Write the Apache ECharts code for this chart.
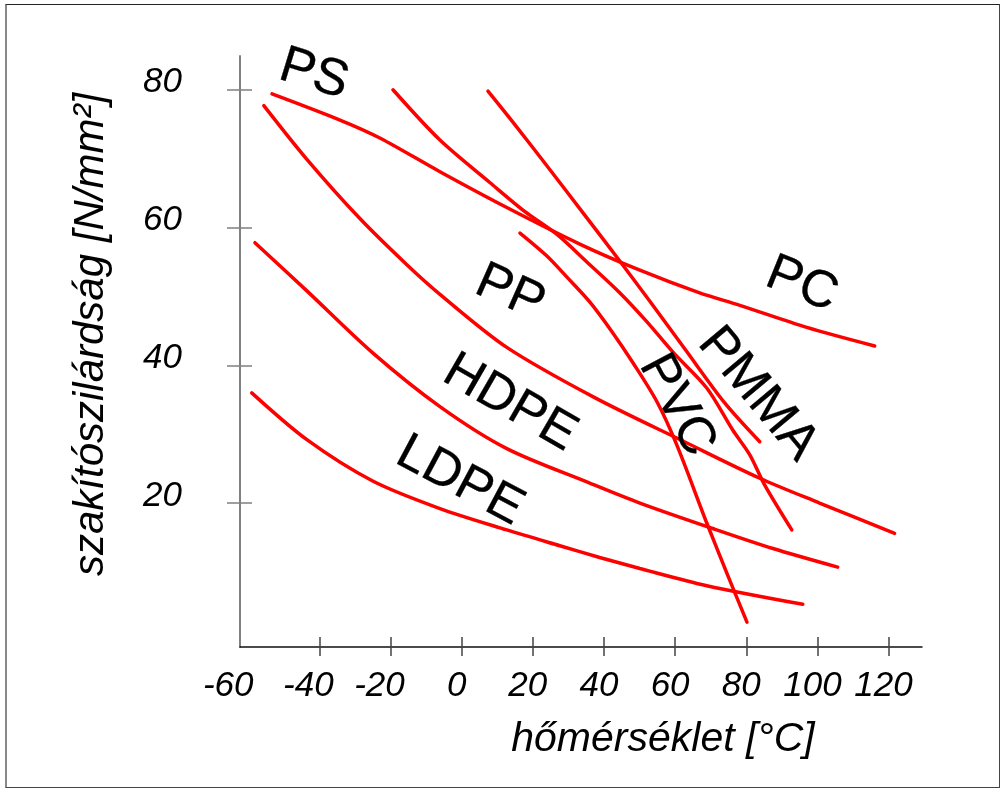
<!DOCTYPE html>
<html><head><meta charset="utf-8">
<script src="https://cdn.jsdelivr.net/npm/echarts@6/dist/echarts.min.js"></script>
<style>
html,body{margin:0;padding:0;background:#fff}
#c{position:absolute;left:0;top:0;width:1005px;height:792px}
#frame{position:absolute;left:5px;top:4px;width:995px;height:784px;border-top:1px solid #222;border-left:2px solid #888;border-right:1px solid #444;border-bottom:1px solid #444;box-sizing:border-box;pointer-events:none}
</style>
</head><body><div id="c"></div><div id="frame"></div>
<script>
// x: temperature [°C], y: tensile strength [N/mm²]
const pcX   = [-53.3, -34.2, -23.0, -6.1, 12.7, 33.2, 50.1, 66.9, 78.2, 97.0, 116.1];
const pcY   = [79.4, 75.6, 73.0, 68.1, 62.9, 57.6, 53.8, 50.5, 48.7, 45.5, 42.8];
const psX   = [-19.3, -6.1, 8.0, 17.8, 26.8, 35.2, 44.5, 52.1, 59.4, 68.9, 76.2, 81.0, 85.2, 92.8];
const psY   = [80.0, 72.7, 66.5, 62.3, 59.0, 55.0, 50.5, 46.3, 41.9, 36.7, 30.6, 27.0, 22.6, 16.1];
const pmmaX = [7.4, 14.4, 23.9, 34.6, 44.5, 52.9, 62.7, 74.0, 83.8];
const pmmaY = [79.8, 75.3, 69.0, 61.8, 55.1, 49.3, 42.4, 34.5, 28.9];
const pvcX  = [16.4, 23.9, 29.6, 36.0, 42.5, 48.1, 54.9, 60.5, 68.9, 74.8, 80.2];
const pvcY  = [59.2, 55.9, 52.8, 49.2, 44.7, 40.4, 34.7, 28.4, 17.1, 9.5, 2.7];
const ppX   = [-55.6, -43.5, -28.6, -15.4, -6.1, 12.7, 37.4, 62.2, 83.8, 100.6, 121.7];
const ppY   = [77.7, 69.9, 61.3, 54.6, 50.3, 42.6, 35.3, 29.0, 23.6, 20.0, 15.6];
const hdpeX = [-58.1, -43.5, -25.0, -6.1, 12.7, 36.0, 50.1, 70.6, 87.5, 105.7];
const hdpeY = [57.8, 50.8, 41.8, 34.0, 27.9, 22.9, 20.0, 16.3, 13.4, 10.7];
const ldpeX = [-59.0, -43.5, -25.0, -6.1, 12.7, 27.6, 38.8, 50.1, 68.9, 95.9];
const ldpeY = [36.0, 29.2, 23.2, 19.2, 16.1, 13.8, 12.1, 10.5, 8.0, 5.3];

// curve labels
const labelNames = ['PS', 'PP', 'HDPE', 'LDPE', 'PC', 'PMMA', 'PVC'];
const labelX     = [-41.5, 13.6, 13.6, -0.5, 95.6, 83.3, 60.5];
const labelY     = [82.2, 50.5, 34.5, 23.2, 51.7, 35.8, 34.2];
const labelRot   = [-17, -24, -30, -28, -22, -50, -62];

// axis ticks
const xLabelVals = [-60, -40, -20, 0, 20, 40, 60, 80, 100, 120];
const xTickVals  = [-40, -20, 0, 20, 40, 60, 80, 100, 120];
const yVals      = [20, 40, 60, 80];

const FONT = "'Liberation Sans', Arial, sans-serif";
const zip = (xs, ys) => xs.map((x, i) => [x, ys[i]]);

const curves = [
  ['PC', pcX, pcY], ['PS', psX, psY], ['PMMA', pmmaX, pmmaY], ['PVC', pvcX, pvcY],
  ['PP', ppX, ppY], ['HDPE', hdpeX, hdpeY], ['LDPE', ldpeX, ldpeY]
];

const series = curves.map(([n, xs, ys]) => ({
  name: n, type: 'line', xAxisIndex: 0, yAxisIndex: 0,
  data: zip(xs, ys), smooth: 0.3, showSymbol: false, symbol: 'none',
  lineStyle: { color: '#ff0000', width: 3.5, cap: 'round' }, clip: false, z: 3
}));

series.push({
  name: 'labels', type: 'scatter', symbolSize: 0, xAxisIndex: 0, yAxisIndex: 0, z: 5,
  itemStyle: { opacity: 1 },
  data: labelNames.map((n, i) => ({ name: n, value: [labelX[i], labelY[i]], label: { rotate: labelRot[i] } })),
  label: { show: true, position: 'inside', formatter: '{b}', color: '#000', fontSize: 52, fontFamily: FONT,
           textBorderColor: '#000', textBorderWidth: 0.3, opacity: 1 },
  silent: true
});

const XMIN = -62.3, XMAX = 129.4, YMIN = -0.9, YMAX = 84.9;
const tickFont = { fontSize: 35, fontStyle: 'italic', color: '#000', fontFamily: FONT };

const option = {
  backgroundColor: '#fff',
  animation: false,
  grid: { left: 240, right: 83, top: 56, bottom: 145, containLabel: false, outerBoundsMode: 'none' },
  xAxis: [{
    type: 'value', min: XMIN, max: XMAX,
    name: 'hőmérséklet [°C]', nameLocation: 'middle', nameGap: 72,
    nameTextStyle: { fontSize: 41, fontStyle: 'italic', color: '#000', fontFamily: FONT, padding: [0, 0, 0, 164] },
    axisLine: { show: true, onZero: false, lineStyle: { color: '#111', width: 1.5 } },
    axisTick: { show: true, customValues: xTickVals, length: 9, lineStyle: { color: '#444', width: 1.5 } },
    axisLabel: {
      customValues: xLabelVals, margin: 22, ...tickFont,
      formatter: v => (v <= -60 ? '{a|' : v < 0 ? '{b|' : '{c|') + v + '}',
      rich: {
        a: { ...tickFont, padding: [0, 40, 0, 0] },
        b: { ...tickFont, padding: [0, 22, 0, 0] },
        c: { ...tickFont, padding: [0, 10, 0, 0] }
      }
    },
    splitLine: { show: false }
  }, {
    type: 'value', min: XMIN, max: XMAX, position: 'bottom',
    axisLine: { show: false, onZero: false },
    axisTick: { show: true, inside: true, customValues: xTickVals, length: 10, lineStyle: { color: '#444', width: 1.5 } },
    axisLabel: { show: false }, splitLine: { show: false }
  }],
  yAxis: [{
    type: 'value', min: YMIN, max: YMAX,
    name: 'szakítószilárdság [N/mm²]', nameLocation: 'middle', nameGap: 128, nameRotate: 90,
    nameTextStyle: { fontSize: 42, fontStyle: 'italic', color: '#000', fontFamily: FONT, padding: [0, 0, 0, 34] },
    axisLine: { show: true, onZero: false, lineStyle: { color: '#808080', width: 2 } },
    axisTick: { show: true, customValues: yVals, length: 13, lineStyle: { color: '#808080', width: 1.5 } },
    axisLabel: { customValues: yVals, margin: 58, ...tickFont, verticalAlign: 'bottom', lineHeight: 14 },
    splitLine: { show: false }
  }, {
    type: 'value', min: YMIN, max: YMAX, position: 'left',
    axisLine: { show: false, onZero: false },
    axisTick: { show: true, inside: true, customValues: yVals, length: 12, lineStyle: { color: '#808080', width: 1.5 } },
    axisLabel: { show: false }, splitLine: { show: false }
  }],
  series: series
};

const chart = echarts.init(document.getElementById('c'), null, { renderer: 'canvas' });
chart.setOption(option);
</script>
</body></html>
